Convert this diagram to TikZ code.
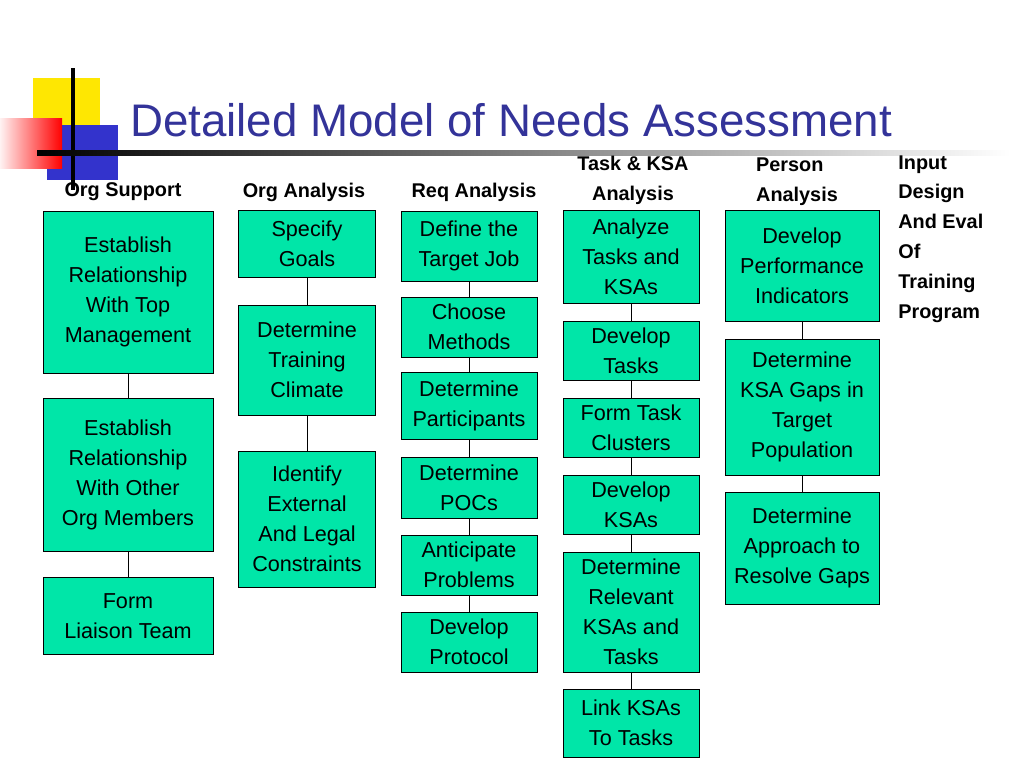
\documentclass[tikz,border=0pt]{standalone}
\usepackage{fontspec}
\setmainfont{Liberation Sans}
\usetikzlibrary{positioning}
\definecolor{boxgreen}{HTML}{00E6A8}
\definecolor{titleblue}{HTML}{333399}
\tikzset{
    stage/.style={draw, fill=boxgreen, align=center, inner sep=1pt, font=\fontsize{12.3}{17}\selectfont},
    head/.style={align=left, font=\bfseries\fontsize{11.3}{17}\selectfont, inner sep=0pt},
    link/.style={draw, thin}
}
\newcommand{\stagebox}[6]{\node[stage, minimum width=#3*0.02cm, minimum height=#4*0.02cm] (#5) at (#1,#2) {#6};}

\begin{document}
\begin{tikzpicture}[x=0.02cm, y=-0.02cm]
            \useasboundingbox (0,0) rectangle (1024,768);
            % logo
            \fill[yellow!90!orange] (33,78) rectangle (100,140);
            \fill[blue!75!black!80] (47,125) rectangle (118,180);
            \shade[left color=red!5, right color=red] (0,118) rectangle (62,168);
            \draw[line width=2pt] (73,68) -- (73,190);
            \shade[left color=black, right color=white] (37,150) rectangle (1010,155);
            \node[titleblue, font=\fontsize{26}{30}\selectfont, anchor=west] (title) at (124,120) {Detailed Model of Needs Assessment};
            % headers
            \node[head] (h1) at (123,192) {Org Support};
            \node[head] (h2) at (304,192) {Org Analysis};
            \node[head] (h3) at (474,192) {Req Analysis};
            \node[head, align=center] (h4) at (633,180) {Task \& KSA\\Analysis};
            \node[head] (h5) at (797,182) {Person\\Analysis};
            \node[head, anchor=north west] (h6) at (898,155) {Input\\Design\\And Eval\\Of\\Training\\Program};
            % org support
            \stagebox{128}{292}{170}{162}{a1}{Establish\\Relationship\\With Top\\Management}
            \stagebox{128}{475}{170}{153}{a2}{Establish\\Relationship\\With Other\\Org Members}
            \stagebox{128}{616}{170}{77}{a3}{Form\\Liaison Team}
            % org analysis
            \stagebox{307}{244}{137}{67}{b1}{Specify\\Goals}
            \stagebox{307}{360}{137}{110}{b2}{Determine\\Training\\Climate}
            \stagebox{307}{519}{137}{136}{b3}{Identify\\External\\And Legal\\Constraints}
            % req analysis
            \stagebox{469}{246}{136}{70}{c1}{Define the\\Target Job}
            \stagebox{469}{327}{136}{60}{c2}{Choose\\Methods}
            \stagebox{469}{406}{136}{67}{c3}{Determine\\Participants}
            \stagebox{469}{488}{136}{61}{c4}{Determine\\POCs}
            \stagebox{469}{565}{136}{60}{c5}{Anticipate\\Problems}
            \stagebox{469}{642}{136}{60}{c6}{Develop\\Protocol}
            % task and ksa analysis
            \stagebox{631}{257}{136}{93}{d1}{Analyze\\Tasks and\\KSAs}
            \stagebox{631}{351}{136}{59}{d2}{Develop\\Tasks}
            \stagebox{631}{428}{136}{59}{d3}{Form Task\\Clusters}
            \stagebox{631}{505}{136}{59}{d4}{Develop\\KSAs}
            \stagebox{631}{612}{136}{120}{d5}{Determine\\Relevant\\KSAs and\\Tasks}
            \stagebox{631}{723}{136}{68}{d6}{Link KSAs\\To Tasks}
            % person analysis
            \stagebox{802}{266}{154}{111}{e1}{Develop\\Performance\\Indicators}
            \stagebox{802}{407}{154}{136}{e2}{Determine\\KSA Gaps in\\Target\\Population}
            \stagebox{802}{548}{154}{112}{e3}{Determine\\Approach to\\Resolve Gaps}
            % links
            \foreach \u/\v in {a1/a2, a2/a3, b1/b2, b2/b3, c1/c2, c2/c3, c3/c4, c4/c5, c5/c6,
                               d1/d2, d2/d3, d3/d4, d4/d5, d5/d6, e1/e2, e2/e3}
                \draw[link] (\u.south) -- (\v.north);
        \end{tikzpicture}
\end{document}
